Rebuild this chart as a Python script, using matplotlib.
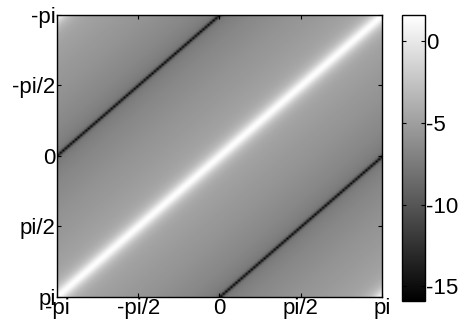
import numpy as np
import matplotlib
matplotlib.use("Agg")
import matplotlib.pyplot as plt

# ── Données ───────────────────────────────────────────────────────────────────

# valeur (dB) le long de la diagonale, phase x+y = m*pi/64, m = 0..64
profile_half = [
    1.6, 1.2, 0.2, -0.9, -1.9, -2.6, -3.2, -3.6, -3.9, -4.2,
    -4.4, -4.5, -4.6, -4.7, -4.8, -4.85, -4.9, -4.95, -5.0, -5.05,
    -5.1, -5.15, -5.2, -5.25, -5.3, -5.35, -5.4, -5.45, -5.5, -5.5,
    -5.55, -5.6, -5.6, -5.65, -5.7, -5.75, -5.8, -5.85, -5.9, -5.95,
    -6.0, -6.05, -6.1, -6.15, -6.2, -6.25, -6.3, -6.35, -6.4, -6.45,
    -6.5, -6.55, -6.6, -6.7, -6.8, -6.85, -6.9, -7.0, -7.1, -7.2,
    -7.3, -7.5, -7.8, -9.5, -15.9,
]
n_cells = 128
tick_pos = [-np.pi, -np.pi / 2, 0, np.pi / 2, np.pi]
tick_labels = ["-pi", "-pi/2", "0", "pi/2", "pi"]
cbar_ticks = [0, -5, -10, -15]
cbar_labels = ["0", "-5", "-10", "-15"]
vmin, vmax = -15.9, 1.6

# profil complet sur 2*pi (symétrique)
profile = np.array(profile_half + profile_half[-2:0:-1])
j, k = np.meshgrid(np.arange(n_cells), np.arange(n_cells))
grid = profile[(j + k + 1) % n_cells]

# ── Figure ────────────────────────────────────────────────────────────────────

plt.rcParams["font.family"] = ["Liberation Sans", "DejaVu Sans"]
fig = plt.figure(figsize=(4.64, 3.29), dpi=100)
ax = fig.add_axes([0.1228, 0.0973, 0.7005, 0.8571])
cax = fig.add_axes([0.8664, 0.0851, 0.0495, 0.8693])

im = ax.imshow(grid, cmap="gray", vmin=vmin, vmax=vmax,
               extent=[-np.pi, np.pi, np.pi, -np.pi],
               interpolation="bilinear", aspect="auto")

ax.set_xticks(tick_pos)
ax.set_xticklabels(tick_labels)
ax.set_yticks(tick_pos)
ax.set_yticklabels(tick_labels)
ax.tick_params(direction="in", length=3, width=0.8, labelsize=16,
               top=True, right=True, pad=1)
for s in ax.spines.values():
    s.set_linewidth(1.0)

cb = fig.colorbar(im, cax=cax)
cb.set_ticks(cbar_ticks)
cb.set_ticklabels(cbar_labels)
cb.ax.tick_params(direction="in", length=3, width=0.8, labelsize=16,
                  left=True, right=True, pad=1)
cb.outline.set_linewidth(1.0)

fig.savefig("out.png", dpi=100)
